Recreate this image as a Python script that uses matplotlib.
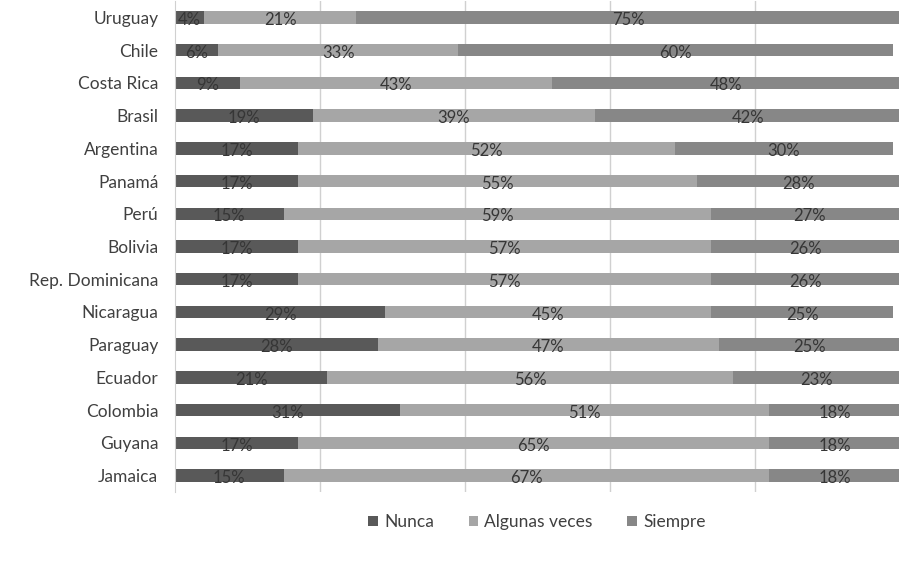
import numpy as np
import matplotlib.pyplot as plt

plt.rcParams['font.family'] = ['Lato', 'DejaVu Sans']

countries = ["Uruguay", "Chile", "Costa Rica", "Brasil", "Argentina", "Panamá",
             "Perú", "Bolivia", "Rep. Dominicana", "Nicaragua", "Paraguay",
             "Ecuador", "Colombia", "Guyana", "Jamaica"]
nunca = [4, 6, 9, 19, 17, 17, 15, 17, 17, 29, 28, 21, 31, 17, 15]
algunas = [21, 33, 43, 39, 52, 55, 59, 57, 57, 45, 47, 56, 51, 65, 67]
siempre = [75, 60, 48, 42, 30, 28, 27, 26, 26, 25, 25, 23, 18, 18, 18]

series = [("Nunca", nunca, "#595959"),
          ("Algunas veces", algunas, "#a6a6a6"),
          ("Siempre", siempre, "#878787")]

fig = plt.figure(figsize=(8.99, 5.62), dpi=100)
ax = fig.add_axes([175 / 899, 70 / 562, 1 - 175 / 899 + 0.001, 491 / 562])

y = np.arange(len(countries))
left = np.zeros(len(countries))
for name, vals, col in series:
    vals = np.array(vals, dtype=float)
    ax.barh(y, vals, left=left, height=0.38, color=col, label=name, zorder=2)
    for yi, l, v in zip(y, left, vals):
        ax.text(l + v / 2, yi + 0.08, f"{int(v)}%", ha="center", va="center",
                fontsize=12, color="#363636", zorder=3)
    left += vals

ax.set_xlim(0, 100)
ax.set_ylim(len(countries) - 0.5, -0.5)
ax.set_xticks([20, 40, 60, 80])
ax.xaxis.grid(True, color="#d0d0d0", lw=1, zorder=0)
ax.tick_params(axis="x", length=0, labelbottom=False)
ax.tick_params(axis="y", length=0, pad=12, labelsize=12.5, labelcolor="#404040")
ax.set_yticks(y)
ax.set_yticklabels(countries)
for s in ["top", "right", "bottom"]:
    ax.spines[s].set_visible(False)
ax.spines["left"].set_color("#d0d0d0")

handles, labels = ax.get_legend_handles_labels()
fig.legend(handles, labels, loc="center", bbox_to_anchor=(537 / 899, 1 - 522 / 562),
           ncol=3, frameon=False, fontsize=12.5, handlelength=0.55, handleheight=0.55,
           handletextpad=0.35, columnspacing=2.0, labelcolor="#404040")

fig.savefig("out.png", dpi=100)
